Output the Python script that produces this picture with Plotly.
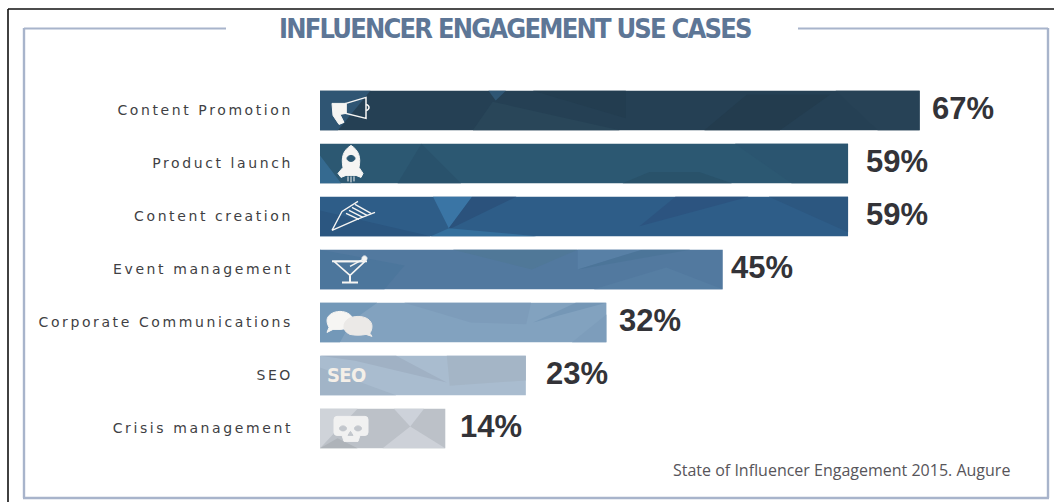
import plotly.graph_objects as go

# Survey results
categories = ["Content Promotion", "Product launch", "Content creation", "Event management",
              "Corporate Communications", "SEO", "Crisis management"]
percent = [67, 59, 59, 45, 32, 23, 14]
value_labels = ["67%", "59%", "59%", "45%", "32%", "23%", "14%"]
title_text = "INFLUENCER ENGAGEMENT USE CASES"
source_text = "State of Influencer Engagement 2015. Augure"

# Styling
W, H = 1054, 502
BAR_START = 320
PX_PER_UNIT = 8.95
ROW0, ROW_PITCH = 110.4, 53.0
bar_colors = ["#254054", "#2c5872", "#2e5d88", "#52799f", "#82a2bf", "#a9bccf", "#bcc1c8"]
label_shift = [10, 16, 16, 6, 11, 18, 13]

# Low-poly texture of each bar: fill, then corners as (share of bar length, share of bar height)
facets = [
    [("#2f5573", [(0, 0), (.084, 0), (.03, 1), (0, 1)]),
     ("#294659", [(.255, 1), (.288, .28), (.5, 1)]),
     ("#2f5674", [(.281, 0), (.31, 0), (.293, .25)]),
     ("#233d50", [(.355, 0), (.51, 0), (.51, .7)]),
     ("#233c4e", [(.641, 1), (.712, .1), (.851, .1), (.767, 1)]),
     ("#274256", [(.86, 0), (1, 0), (1, 1), (.93, 1)])],
    [("#356a90", [(0, .3), (.04, 1), (0, 1)]),
     ("#29526c", [(.147, 1), (.192, 0), (.267, 1)]),
     ("#29526a", [(.624, .72), (.718, .72), (.78, 1), (.573, 1)]),
     ("#2b5570", [(.786, 0), (1, 0), (1, 1), (.893, 1)])],
    [("#2b5680", [(0, .35), (.21, 1), (0, 1)]),
     ("#3a75a5", [(.214, 0), (.288, 0), (.244, .8)]),
     ("#2b527c", [(.288, 0), (.372, 0), (.241, .85)]),
     ("#35709d", [(.21, 1), (.244, .8), (.41, 1)]),
     ("#2c5480", [(.605, .75), (.673, 0), (.812, 0)]),
     ("#2c5780", [(.85, 0), (1, 0), (1, .9)])],
    [("#4c769c", [(0, 0), (.21, .4), (.16, 1), (0, 1)]),
     ("#507898", [(.33, 0), (.64, 0), (.526, .5)]),
     ("#5880a6", [(.64, .5), (.8, 0), (.64, 0)]),
     ("#4c7599", [(.64, .5), (.8, 0), (.92, 0)]),
     ("#567ea3", [(.68, 1), (.86, .45), (1, 1)])],
    [("#7398b8", [(0, 0), (.2, 0), (.11, .47), (.07, 1), (0, 1)]),
     ("#7d9cba", [(.294, 0), (.737, 0), (.72, .55), (.526, .5)]),
     ("#7597b6", [(.744, .5), (.893, 0), (1, 0)]),
     ("#7d9dbb", [(.88, 1), (1, .3), (1, 1)])],
    [("#a0b1c4", [(0, 0), (.37, 0), (.616, .68), (.17, .13)]),
     ("#a4b5c6", [(.616, 0), (1, 0), (1, .63), (.63, .76)]),
     ("#a1b4c7", [(0, .3), (.37, 1), (0, 1)])],
    [("#cfd3d9", [(0, 0), (.3, 0), (.12, .6), (0, 1)]),
     ("#cdd2da", [(.59, 0), (.83, 0), (.72, .45)]),
     ("#cdd1d8", [(.5, 1), (.72, .45), (1, 1)]),
     ("#aeb3b9", [(0, 1), (.14, .75), (.3, 1)])],
]


def blob(cx, cy, rx, ry):
    """Closed ellipse as cubic segments, in icon pixels."""
    k = 0.5523
    return (f"M{cx - rx},{cy} "
            f"C{cx - rx},{cy + k * ry} {cx - k * rx},{cy + ry} {cx},{cy + ry} "
            f"C{cx + k * rx},{cy + ry} {cx + rx},{cy + k * ry} {cx + rx},{cy} "
            f"C{cx + rx},{cy - k * ry} {cx + k * rx},{cy - ry} {cx},{cy - ry} "
            f"C{cx - k * rx},{cy - ry} {cx - rx},{cy - k * ry} {cx - rx},{cy} Z")


# Pictograms per row, in pixels from the bar's start and the row's centre (y up):
# path, fill, outline colour, outline width
WHITE = "#f6f5f3"
CLEAR = "rgba(0,0,0,0)"
icons = [
    [("M12,7 L26,7 L26,-3 L20,-4 L24,-12 L19,-14 L13,-5 Z", WHITE, WHITE, 1),
     ("M26,7 L46,13 L46,-8 L26,-3 Z", CLEAR, WHITE, 1.5),
     ("M46,6 C50,5 50,1 46,0", CLEAR, WHITE, 1.5)],
    [("M31,18 C39,13 41,6 39,-4 L43,-10 L41,-14 L36,-12 L26,-12 L21,-14 L18,-10 L23,-4 C21,6 23,13 31,18 Z", WHITE, WHITE, 1),
     (blob(31, 5, 4, 3), "#2c5872", "#2c5872", 1),
     ("M28,-13 L28,-18 M31,-13 L31,-19 M34,-13 L34,-18", CLEAR, WHITE, 1)],
    [("M12,-14 L22,5 L38,15 M12,-14 L37,-3 L55,4", CLEAR, WHITE, 1.3),
     ("M35,12 L51,3 M32,9 L47,1 M29,6 L43,-1 M26,3 L39,-3", CLEAR, WHITE, 1.4)],
    [("M12,8 L47,8", CLEAR, WHITE, 1.8),
     ("M14,8 L45,8 L30,-6 Z", CLEAR, WHITE, 1.6),
     ("M30,-6 L30,-12 M22,-13 L38,-13", CLEAR, WHITE, 2),
     ("M30,3 L43,10", CLEAR, WHITE, 1.4),
     (blob(44.5, 11, 2.5, 2.5), WHITE, WHITE, 1)],
    [("M7,2 C7,7 13,11 20,11 C27,11 33,7 33,2 C33,-3 27,-7 20,-7 L13,-7 L7,-10 L9,-5 C8,-3 7,-1 7,2 Z", WHITE, WHITE, 1),
     ("M24,-4 C24,2 30,6 38,6 C46,6 52,2 52,-4 C52,-8 50,-10 50,-11 L52,-14 L46,-12 C42,-13 34,-13 30,-12 C26,-10 24,-8 24,-4 Z", "#ebe9e7", "#ebe9e7", 1)],
    [],
    [("M17,12 L45,12 Q48,12 48,9 L48,-4 Q48,-7 45,-7 L40,-7 L38,-13 L24,-13 L22,-7 L17,-7 Q14,-7 14,-4 L14,9 Q14,12 17,12 Z", "#f1f1f1", "#f1f1f1", 1),
     (blob(23, 0, 3.5, 2.5), "#c3c7cd", "#c3c7cd", 1),
     (blob(38, 0, 3.5, 2.5), "#c3c7cd", "#c3c7cd", 1),
     ("M30.5,-3 L28,-7 L33,-7 Z", "#c3c7cd", "#c3c7cd", 1)],
]

x_top = (W - BAR_START) / PX_PER_UNIT
row_of = lambda px: (px - ROW0) / ROW_PITCH
BAR_THICK = 39.5 / ROW_PITCH

fig = go.Figure(go.Bar(
    x=percent,
    y=list(range(len(categories))),
    orientation="h",
    width=BAR_THICK,
    marker=dict(color=bar_colors, line=dict(width=0)),
    hoverinfo="skip",
))

shapes = []

# Frame: outer black corner, then the pale box broken by the title
def page_line(x0, y0, x1, y1, color, width):
    return dict(type="line", xref="paper", yref="paper",
                x0=x0 / W, x1=x1 / W, y0=1 - y0 / H, y1=1 - y1 / H,
                line=dict(color=color, width=width), layer="below")

BLACK = "#111111"
FRAME = "#a8b4cb"
shapes += [
    page_line(8, 9, W, 9, BLACK, 1.4),
    page_line(8, 9, 8, H, BLACK, 1.6),
    page_line(24, 28.5, 226, 28.5, FRAME, 2),
    page_line(798, 28.5, 1048, 28.5, FRAME, 2),
    page_line(24, 28, 24, 498, FRAME, 2.4),
    page_line(1048, 28, 1048, 498, FRAME, 2.4),
    page_line(23, 498, 1049, 498, FRAME, 2.4),
]

for i, value in enumerate(percent):
    top = i - BAR_THICK / 2
    for fill, corners in facets[i]:
        pts = [(value * fx, top + fy * BAR_THICK) for fx, fy in corners]
        path = "M" + " L".join(f"{x:.3f},{y:.3f}" for x, y in pts) + " Z"
        shapes.append(dict(type="path", xref="x", yref="y", path=path,
                           fillcolor=fill, line=dict(width=0), layer="above"))
    for path, fill, stroke, sw in icons[i]:
        shapes.append(dict(type="path", xref="x", yref="y",
                           xsizemode="pixel", ysizemode="pixel",
                           xanchor=0, yanchor=i, path=path, fillcolor=fill,
                           line=dict(color=stroke, width=sw), layer="above"))

annotations = [
    dict(text=f'<span style="letter-spacing:-1.8px">{title_text}</span>',
         xref="paper", yref="paper", x=515 / W, y=1 - 29 / H,
         xanchor="center", yanchor="middle", showarrow=False,
         font=dict(family="DejaVu Sans Condensed", size=27, color="#5d7696", weight="bold")),
    dict(text=source_text, xref="paper", yref="paper", x=1012 / W, y=1 - 470 / H,
         xanchor="right", yanchor="middle", showarrow=False,
         font=dict(family="Open Sans", size=16, color="#57555a")),
    dict(text='<span style="letter-spacing:-0.6px">SEO</span>', xref="x", yref="y",
         x=0, y=5, xanchor="left", yanchor="middle", xshift=5, showarrow=False,
         font=dict(family="DejaVu Sans Condensed", size=20, color="#f4efe8", weight="bold")),
]
for i, (value, text) in enumerate(zip(percent, value_labels)):
    annotations.append(dict(
        text=text, xref="x", yref="y", x=value, y=i, xanchor="left", yanchor="middle",
        xshift=label_shift[i], yshift=1.5, showarrow=False,
        font=dict(family="Liberation Sans", size=31, color="#333338", weight="bold"),
    ))

# Letter-spaced category names
spaced = [f'<span style="letter-spacing:2.6px">{c}</span>' for c in categories]

fig.update_layout(
    width=W, height=H,
    margin=dict(l=0, r=0, t=0, b=0, autoexpand=False),
    paper_bgcolor="white", plot_bgcolor="rgba(0,0,0,0)",
    showlegend=False,
    xaxis=dict(domain=[BAR_START / W, 1], range=[0, x_top], visible=False, fixedrange=True),
    yaxis=dict(
        range=[row_of(H), row_of(0)],
        tickmode="array",
        tickvals=list(range(len(categories))),
        ticktext=spaced,
        ticks="", showgrid=False, zeroline=False, showline=False, fixedrange=True,
        ticklabelstandoff=26,
        tickfont=dict(family="DejaVu Sans", size=14, color="#3f3f44"),
    ),
    shapes=shapes,
    annotations=annotations,
)

fig.write_html("out.html", config={"displayModeBar": False})
